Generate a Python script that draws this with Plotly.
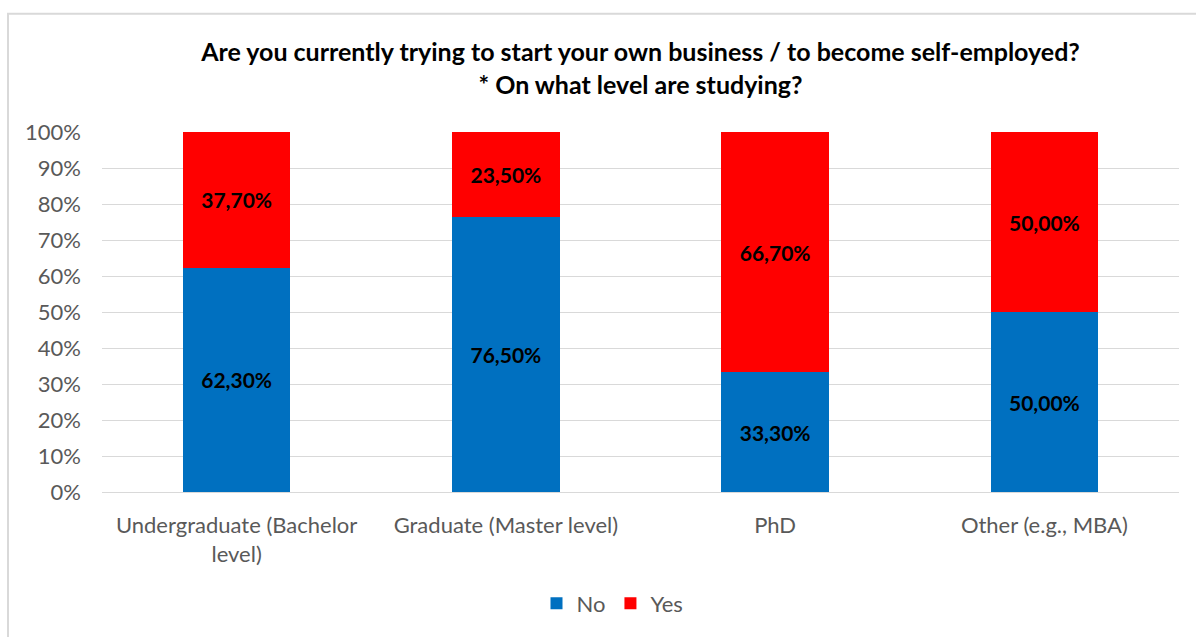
import plotly.graph_objects as go

categories = ["Undergraduate (Bachelor<br>level)", "Graduate (Master level)", "PhD", "Other (e.g., MBA)"]
no_values = [62.3, 76.5, 33.3, 50.0]
yes_values = [37.7, 23.5, 66.7, 50.0]
tick_values = list(range(0, 101, 10))
tick_labels = [f"{v}%" for v in tick_values]

BLUE = "#0070C0"
RED = "#FF0000"
GRAY_TEXT = "#595959"
GRID = "#D9D9D9"
FONT = "Lato, 'Open Sans', sans-serif"


def pct_label(v):
    return f"{v:.2f}".replace(".", ",") + "%"


label_font = dict(color="black", size=21, family=FONT, weight="bold")

fig = go.Figure()
fig.add_trace(go.Bar(
    name="No", x=categories, y=no_values,
    marker=dict(color=BLUE, line=dict(width=0)),
    text=[pct_label(v) for v in no_values],
    textposition="inside", insidetextanchor="middle",
    textfont=label_font, textangle=0,
))
fig.add_trace(go.Bar(
    name="Yes", x=categories, y=yes_values,
    marker=dict(color=RED, line=dict(width=0)),
    text=[pct_label(v) for v in yes_values],
    textposition="inside", insidetextanchor="middle",
    textfont=label_font, textangle=0,
))

W, H = 1196, 637
ml, mr, mt, mb = 102, 17, 132, 143
pw, ph = W - ml - mr, H - mt - mb

fig.update_layout(
    width=W, height=H,
    barmode="stack", bargap=0.6,
    margin=dict(l=ml, r=mr, t=mt, b=mb),
    paper_bgcolor="white", plot_bgcolor="white",
    font=dict(family=FONT, color=GRAY_TEXT, size=22),
    title=dict(
        text="Are you currently trying to start your own business / to become self-employed?<br>* On what level are studying?",
        x=0.5, xanchor="center", xref="paper",
        y=1 - 61 / H, yanchor="middle",
        font=dict(family=FONT, size=25, color="black", weight="bold"),
    ),
    xaxis=dict(
        showgrid=False, showline=False, ticks="",
        ticklabelstandoff=18,
        tickfont=dict(size=22, color=GRAY_TEXT),
    ),
    yaxis=dict(
        range=[0, 100], tickvals=tick_values, ticktext=tick_labels,
        showgrid=True, gridcolor=GRID, gridwidth=1,
        zeroline=True, zerolinecolor=GRID, zerolinewidth=1,
        showline=False, ticks="", ticklabelstandoff=20,
        tickfont=dict(size=22, color=GRAY_TEXT),
    ),
    legend=dict(
        orientation="h", x=0.5 - 28 / pw, xanchor="center",
        y=-(606 - (H - mb)) / ph, yanchor="middle",
        font=dict(size=22, color=GRAY_TEXT),
        itemwidth=30, traceorder="normal",
    ),
    shapes=[dict(
        type="rect", xref="paper", yref="paper",
        x0=(8 - ml) / pw, x1=(1205 - ml) / pw,
        y0=-(650 - (H - mb)) / ph, y1=1 + (mt - 13) / ph,
        line=dict(color="#D9D9D9", width=2), fillcolor="rgba(0,0,0,0)",
        layer="below",
    )],
)

fig.write_html("out.html")
